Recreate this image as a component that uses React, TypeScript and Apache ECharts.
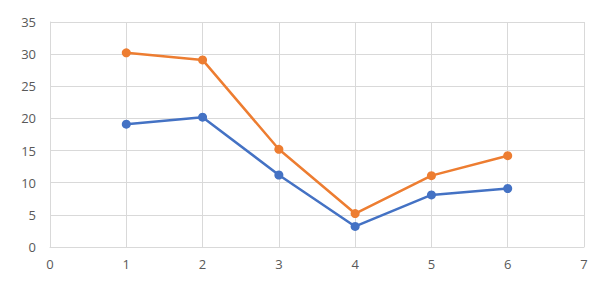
import React, { useEffect, useRef } from "react";
import * as echarts from "echarts";

const xValues = [1, 2, 3, 4, 5, 6];
const seriesBlue = [19.1, 20.2, 11.2, 3.2, 8.1, 9.1];
const seriesOrange = [30.2, 29.1, 15.2, 5.2, 11.1, 14.2];

export default function App() {
  const ref = useRef<HTMLDivElement>(null);
  useEffect(() => {
    const chart = echarts.init(ref.current!, null, { renderer: "svg" });
    const labelStyle = { color: "#595959", fontSize: 13, fontFamily: "Open Sans" };
    const mk = (vals: number[]) => xValues.map((x, i) => [x, vals[i]]);
    chart.setOption({
      animation: false,
      grid: { left: 50, right: 22, top: 22, bottom: 36 },
      xAxis: {
        type: "value",
        min: 0,
        max: 7,
        interval: 1,
        axisLine: { show: true, lineStyle: { color: "#d9d9d9", width: 1 } },
        axisTick: { show: false },
        splitLine: { show: true, lineStyle: { color: "#d9d9d9", width: 1 } },
        axisLabel: { ...labelStyle, margin: 10 },
      },
      yAxis: {
        type: "value",
        min: 0,
        max: 35,
        interval: 5,
        axisLine: { show: true, lineStyle: { color: "#d9d9d9", width: 1 } },
        axisTick: { show: false },
        splitLine: { show: true, lineStyle: { color: "#d9d9d9", width: 1 } },
        axisLabel: { ...labelStyle, margin: 14 },
      },
      series: [
        {
          type: "line",
          data: mk(seriesBlue),
          symbol: "circle",
          symbolSize: 9,
          lineStyle: { color: "#4472C4", width: 2.5 },
          itemStyle: { color: "#4472C4" },
        },
        {
          type: "line",
          data: mk(seriesOrange),
          symbol: "circle",
          symbolSize: 9,
          lineStyle: { color: "#ED7D31", width: 2.5 },
          itemStyle: { color: "#ED7D31" },
        },
      ],
    });
    return () => chart.dispose();
  }, []);
  return <div ref={ref} style={{ width: 606, height: 283, margin: -8 }} />;
}
